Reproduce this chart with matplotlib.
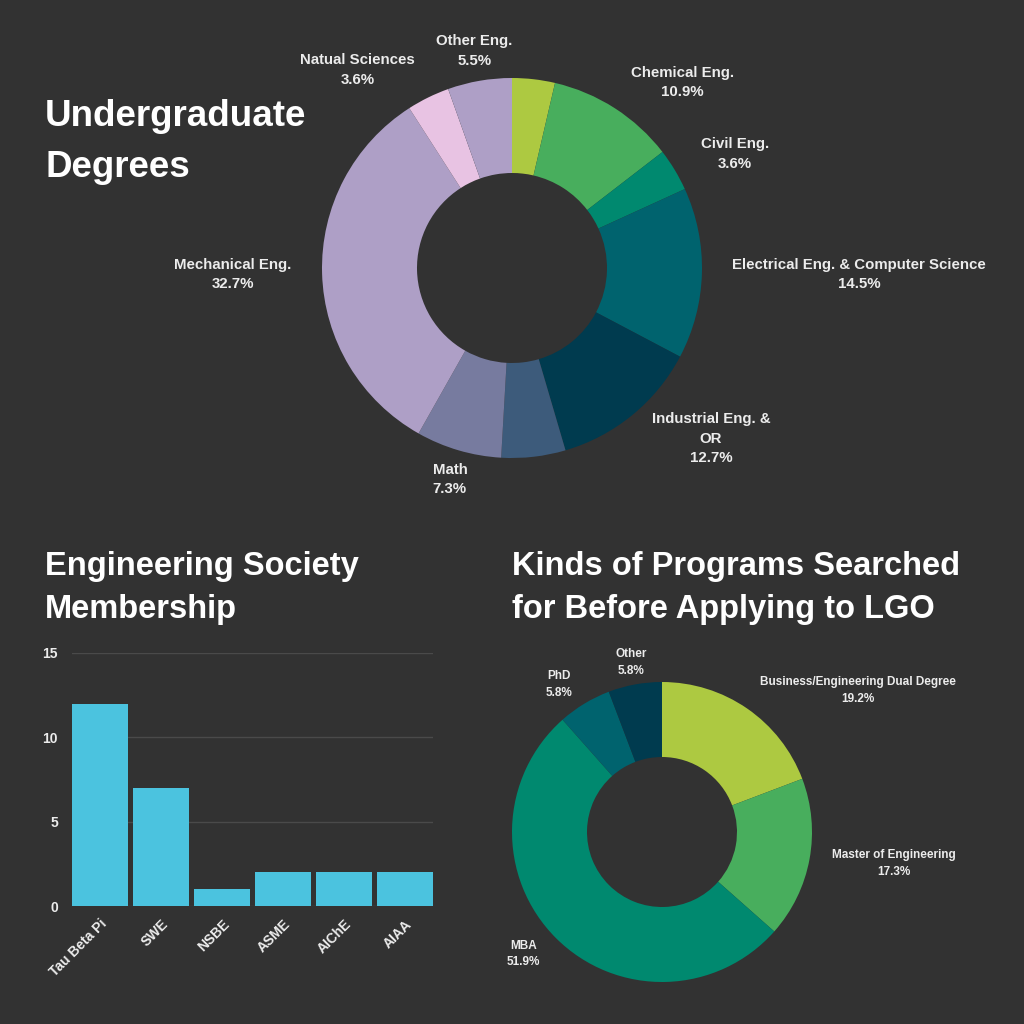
import numpy as np
import matplotlib
matplotlib.use("Agg")
import matplotlib.pyplot as plt

plt.rcParams['font.family'] = ['Liberation Sans', 'DejaVu Sans']
plt.rcParams['font.weight'] = 'bold'

BG = '#323232'
TXT = '#ececec'

# --- undergraduate degrees (counts out of 55), clockwise from top
ug_labels = ['', 'Chemical Eng.', 'Civil Eng.', 'Electrical Eng. & Computer Science',
             'Industrial Eng. &\nOR', '', 'Math', 'Mechanical Eng.',
             'Natual Sciences', 'Other Eng.']
ug_counts = [2, 6, 2, 8, 7, 3, 4, 18, 2, 3]
ug_colors = ['#adc941', '#48ae5d', '#00896f', '#00636e', '#003b4f',
             '#3d5b7b', '#777b9f', '#ae9fc6', '#e8c3e3', '#ae9fc6']

# --- engineering society membership
soc_names = ['Tau Beta Pi', 'SWE', 'NSBE', 'ASME', 'AIChE', 'AIAA']
soc_counts = [12, 7, 1, 2, 2, 2]

# --- programs searched (counts out of 52), clockwise from top
prog_labels = ['Business/Engineering Dual Degree', 'Master of Engineering',
               'MBA', 'PhD', 'Other']
prog_counts = [10, 9, 27, 3, 3]
prog_colors = ['#adc941', '#48ae5d', '#00896f', '#00636e', '#003b4f']


def px_axes(fig, cx, cy, half):
    # square axes centred on pixel (cx, cy), top-left origin
    return fig.add_axes([(cx - half) / 1024, (1024 - cy - half) / 1024,
                         2 * half / 1024, 2 * half / 1024])


def donut(ax, counts, labels, colors, radius_px, half_px, fsize, lsp, rlab):
    ax.set_facecolor(BG)
    wedges, _ = ax.pie(counts, colors=colors, startangle=90, counterclock=False,
                       radius=1, wedgeprops=dict(width=0.5, linewidth=0))
    lim = half_px / radius_px
    ax.set_xlim(-lim, lim)
    ax.set_ylim(-lim, lim)
    ax.set_aspect('equal')
    ax.axis('off')
    total = float(sum(counts))
    for w, lab, c in zip(wedges, labels, counts):
        if not lab:
            continue
        mid = np.deg2rad((w.theta1 + w.theta2) / 2)
        x, y = rlab * np.cos(mid), rlab * np.sin(mid)
        if abs(x) < 0.3 * rlab:
            ha = 'center'
        elif x > 0:
            ha = 'left'
        else:
            ha = 'right'
        ax.text(x, y, '%s\n%.1f%%' % (lab, 100 * c / total), ha=ha, va='center',
                multialignment='center', color=TXT, fontsize=fsize,
                fontweight='bold', linespacing=lsp)


fig = plt.figure(figsize=(10.24, 10.24), dpi=100, facecolor=BG)

# titles
fig.text(45 / 1024, 1 - 142 / 1024, 'Undergraduate\nDegrees', color='white',
         fontsize=26.5, fontweight='bold', ha='left', va='center', linespacing=1.6)
fig.text(45 / 1024, 1 - 588 / 1024, 'Engineering Society\nMembership', color='white',
         fontsize=23.5, fontweight='bold', ha='left', va='center', linespacing=1.5)
fig.text(512 / 1024, 1 - 588 / 1024, 'Kinds of Programs Searched\nfor Before Applying to LGO',
         color='white', fontsize=23.5, fontweight='bold', ha='left', va='center',
         linespacing=1.5)

# top donut
ax1 = px_axes(fig, 512, 268, 240)
donut(ax1, ug_counts, ug_labels, ug_colors, 190, 240, 10.8, 1.5, 1.16)

# bottom donut
ax3 = px_axes(fig, 662, 832, 180)
donut(ax3, prog_counts, prog_labels, prog_colors, 150, 180, 8.5, 1.55, 1.15)

# bar chart
ax2 = fig.add_axes([72 / 1024, 118 / 1024, 361 / 1024, 253 / 1024])
ax2.set_facecolor(BG)
xpos = np.arange(len(soc_names))
ax2.bar(xpos, soc_counts, width=0.92, color='#4bc3df', zorder=3)
ax2.set_xlim(-0.46, len(soc_names) - 0.54)
ax2.set_ylim(0, 15)
ax2.set_yticks([0, 5, 10, 15])
ax2.grid(axis='y', color='#4a4a4a', linewidth=1, zorder=0)
for s in ax2.spines.values():
    s.set_visible(False)
ax2.tick_params(length=0, colors=TXT, labelsize=10)
ax2.tick_params(axis='y', pad=10)
ax2.set_xticks(xpos)
ax2.set_xticklabels(soc_names, rotation=45, ha='right', rotation_mode='anchor',
                    fontweight='bold')
ax2.tick_params(axis='x', pad=8)
for lab in ax2.get_yticklabels():
    lab.set_fontweight('bold')

fig.savefig('out.png', dpi=100, facecolor=BG)
